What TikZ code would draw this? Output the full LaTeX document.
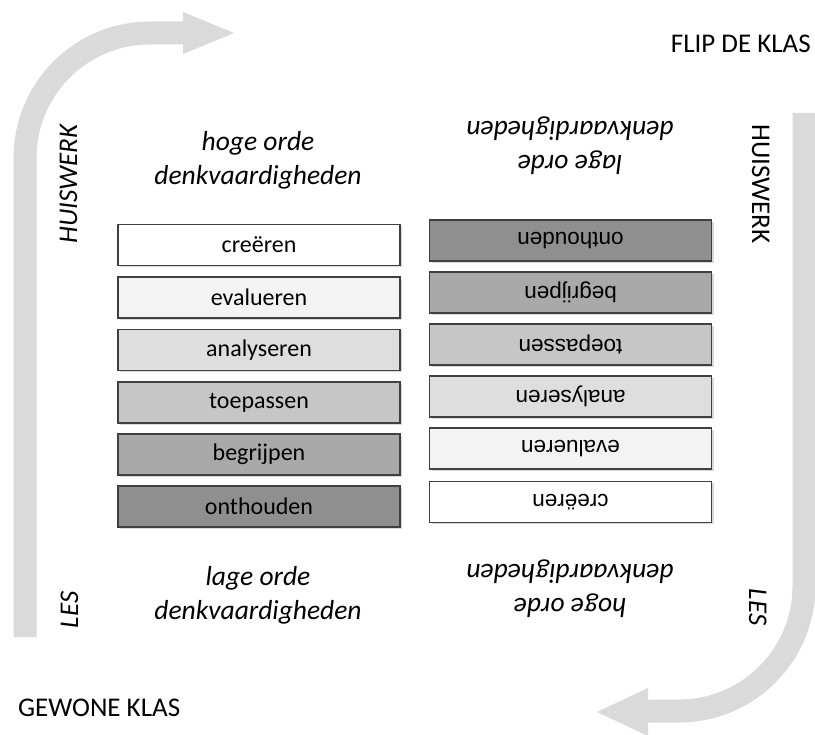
\documentclass[tikz,border=0pt]{standalone}
\usepackage{fontspec}
\setmainfont{Carlito}
\newfontfamily\arialf{Liberation Sans}
\usetikzlibrary{shadows}
\definecolor{arrowgray}{HTML}{DADADA}
\definecolor{lv1}{HTML}{FFFFFF}
\definecolor{lv2}{HTML}{F3F3F3}
\definecolor{lv3}{HTML}{DEDEDE}
\definecolor{lv4}{HTML}{C6C6C6}
\definecolor{lv5}{HTML}{A9A9A9}
\definecolor{lv6}{HTML}{8F8F8F}
\tikzset{
  levelbox/.style={draw=black!75, line width=1.2pt, minimum width=282pt, minimum height=41pt,
    inner sep=0pt, drop shadow={opacity=0.3, shadow xshift=2pt, shadow yshift=-2pt},
    font=\fontsize{24}{28}\selectfont},
  flipbox/.style={levelbox, font=\arialf\fontsize{22.5}{26}\selectfont},
  heading/.style={align=center, font=\itshape\fontsize{27.5}{34}\selectfont},
  side/.style={font=\fontsize{27}{30}\selectfont, inner sep=0pt},
  band/.style={draw=arrowgray, line width=23pt},
  head/.style={fill=arrowgray}
}
\begin{document}
\begin{tikzpicture}[x=1pt, y=-1pt]
\useasboundingbox (0,0) rectangle (815,735);

% left arrow (GEWONE KLAS -> FLIP)
\draw[band] (25,637) -- (25,158) .. controls (25,89) and (81,33) .. (150,33) -- (184,33);
\fill[head] (183,12) -- (234,33) -- (183,54) -- cycle;
% right arrow
\draw[band] (804,113) -- (804,586) .. controls (804,655) and (748,711) .. (679,711) -- (647,711);
\fill[head] (648,688) -- (597,712) -- (648,736) -- cycle;

% corner titles
\node[side, anchor=base east] (flip) at (811,53) {FLIP DE KLAS};
\node[side, anchor=base west] (gewone) at (18,716) {GEWONE KLAS};

% side labels
\node[side, font=\itshape\fontsize{27}{30}\selectfont, rotate=90, anchor=base] (hwl) at (77,184) {HUISWERK};
\node[side, font=\itshape\fontsize{27}{30}\selectfont, rotate=90, anchor=base] (lesl) at (78,610) {LES};
\node[side, rotate=-90, anchor=base] (hwr) at (752,184) {HUISWERK};
\node[side, font=\itshape\fontsize{27}{30}\selectfont, rotate=-90, anchor=base] (lesr) at (749,607) {LES};

% headings
\node[heading] (hogeL) at (258,160) {hoge orde\\denkvaardigheden};
\node[heading] (lageL) at (258,595) {lage orde\\denkvaardigheden};
\node[heading, rotate=180] (lageR) at (570,146) {lage orde\\denkvaardigheden};
\node[heading, rotate=180] (hogeR) at (570,589) {hoge orde\\denkvaardigheden};

% left column (gewone klas)
\node[levelbox, fill=lv1] (l1) at (259,245) {creëren};
\node[levelbox, fill=lv2] (l2) at (259,297.5) {evalueren};
\node[levelbox, fill=lv3] (l3) at (259,350) {analyseren};
\node[levelbox, fill=lv4] (l4) at (259,402.5) {toepassen};
\node[levelbox, fill=lv5] (l5) at (259,454.5) {begrijpen};
\node[levelbox, fill=lv6] (l6) at (259,506.5) {onthouden};

% right column (flip de klas), upside down
\node[flipbox, fill=lv6, rotate=180] (r1) at (570.5,240.5) {onthouden};
\node[flipbox, fill=lv5, rotate=180] (r2) at (570.5,292.5) {begrijpen};
\node[flipbox, fill=lv4, rotate=180] (r3) at (570.5,344.5) {toepassen};
\node[flipbox, fill=lv3, rotate=180] (r4) at (570.5,396.5) {analyseren};
\node[flipbox, fill=lv2, rotate=180] (r5) at (570.5,448.5) {evalueren};
\node[flipbox, fill=lv1, rotate=180] (r6) at (570.5,502) {creëren};
\end{tikzpicture}
\end{document}
